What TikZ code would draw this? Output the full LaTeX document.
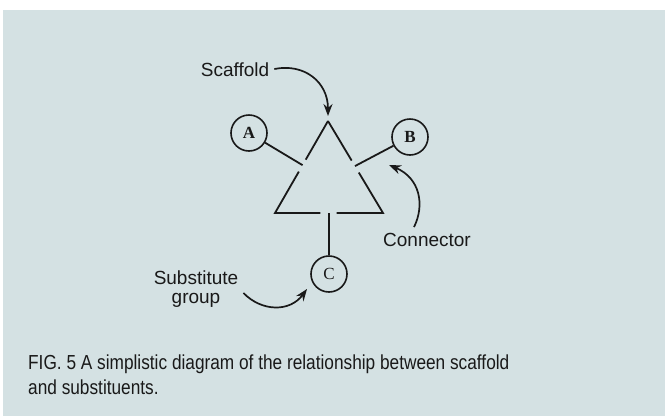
\documentclass[tikz,border=0pt]{standalone}
\usepackage{fontspec}
\setmainfont{Liberation Sans}
\newfontfamily\capfont[FakeStretch=0.85]{Liberation Sans}
\newfontfamily\letterfont{Liberation Serif}
\usetikzlibrary{calc,arrows.meta}
\definecolor{panel}{RGB}{212,225,227}
\definecolor{ink}{RGB}{25,25,25}
\begin{document}
\begin{tikzpicture}[x=1pt,y=-1pt,
  line/.style={draw=ink,line width=1.8pt},
  sub/.style={circle,draw=ink,line width=1.6pt,minimum size=36pt,inner sep=0pt,font=\letterfont\bfseries\fontsize{17}{17}\selectfont,text=ink},
  lab/.style={font=\fontsize{19}{21}\selectfont,text=ink,align=center,inner sep=0pt},
  callout/.style={draw=ink,line width=1.7pt,-{Stealth[length=12pt,width=9pt]}},
  captext/.style={font=\capfont\fontsize{20.3}{25}\selectfont,text=ink,align=left,anchor=north west,inner sep=0pt}]
\useasboundingbox (0,0) rectangle (665,416);
\fill[white] (0,0) rectangle (665,416);
\fill[panel] (3,10) rectangle (665,416);
% scaffold triangle
\coordinate (P) at (328,121);
\coordinate (L) at (275,213);
\coordinate (R) at (383,213);
\draw[line] (P) -- ($(P)!0.42!(L)$);
\draw[line] ($(P)!0.55!(L)$) -- (L) -- ($(L)!0.42!(R)$);
\draw[line] ($(L)!0.57!(R)$) -- (R) -- ($(R)!0.44!(P)$);
\draw[line] ($(R)!0.57!(P)$) -- (P);
\coordinate (mA) at ($(P)!0.48!(L)$);
\coordinate (mB) at ($(P)!0.49!(R)$);
\coordinate (mC) at ($(L)!0.5!(R)$);
% substituents
\node[sub] (A) at (249,133) {A};
\node[sub] (B) at (410,137) {B};
\node[sub,font=\letterfont\fontsize{17}{17}\selectfont] (C) at (329,274) {C};
\draw[line] (mA) -- (A);
\draw[line] (mB) -- (B);
\draw[line] (mC) -- (C);
% labels
\node[lab] (scaf) at (235,70) {Scaffold};
\node[lab] (conn) at (427,240) {Connector};
\node[lab] (subs) at (196,289) {Substitute\\[-2pt]group};
\coordinate (scafTip) at (328,116);
\coordinate (connTip) at (389,165);
\coordinate (subsTip) at (307,289);
\draw[callout] (scaf.east) ++(5,-1) .. controls +(30,-6) and (328,82) .. (scafTip);
\draw[callout] (conn.north) ++(-13,-6) .. controls (425,205) and (420,178) .. (connTip);
\draw[callout] (subs.east) ++(5,4) .. controls (262,312) and (290,312) .. (subsTip);
% caption
\node[captext] (caption) at (28,355) {FIG. 5 A simplistic diagram of the relationship between scaffold\\and substituents.};
\end{tikzpicture}
\end{document}
